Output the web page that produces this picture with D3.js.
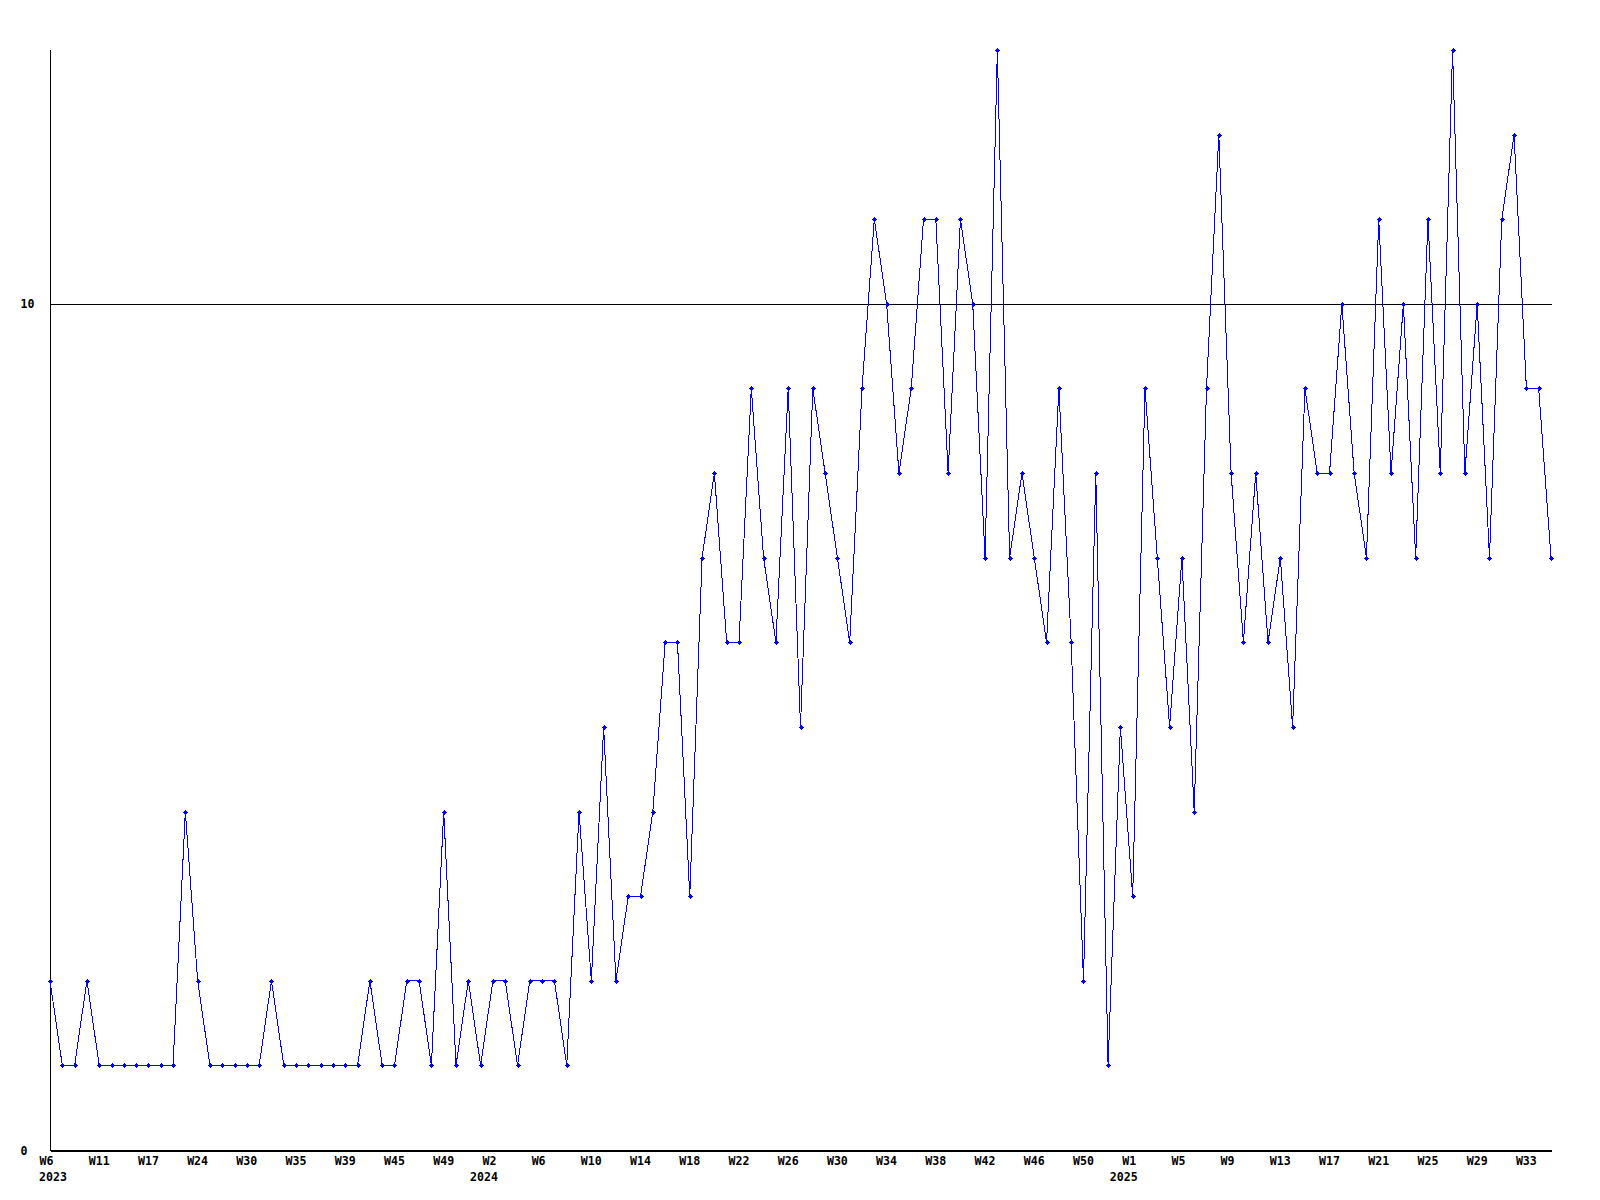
<!DOCTYPE html>
<html>
<head>
<meta charset="utf-8">
<script src="https://cdn.jsdelivr.net/npm/d3@7"></script>
<style>
  html, body { margin: 0; padding: 0; background: #ffffff; }
  svg { display: block; }
  text { font-family: "DejaVu Sans Mono", "Liberation Mono", monospace; font-weight: bold; font-size: 11.6px; fill: #000; }
</style>
</head>
<body>
<svg id="chart" width="1600" height="1200"></svg>
<script>
// ---- data ----
const weeks2023 = ["W6","W7","W8","W10","W11","W12","W14","W16","W17","W19","W21","W22",
  "W24","W25","W27","W28","W30","W31","W33","W34","W35","W36","W37","W38",
  "W39","W40","W42","W44","W45","W46","W47","W48","W49","W50","W51","W52"];
const weeks2024 = ["W2","W3","W4","W5","W6","W7","W8","W9","W10","W11","W12","W13","W14",
  "W15","W16","W17","W18","W19","W20","W21","W22","W23","W24","W25","W26","W27","W28",
  "W29","W30","W31","W32","W33","W34","W35","W36","W37","W38","W39","W40","W41","W42",
  "W43","W44","W45","W46","W47","W48","W49","W50","W51","W52","W53"];
const weeks2025 = ["W1","W2","W3","W4","W5","W6","W7","W8","W9","W10","W11","W12","W13",
  "W14","W15","W16","W17","W18","W19","W20","W21","W22","W23","W24","W25","W26","W27",
  "W28","W29","W30","W31","W32","W33","W34","W35"];
const years = ["2023", "2024", "2025"];

const values = [
  2,1,1,2,1,1,1,1,1,1,
  1,4,2,1,1,1,1,1,2,1,
  1,1,1,1,1,1,2,1,1,2,
  2,1,4,1,2,1,2,2,1,2,
  2,2,1,4,2,5,2,3,3,4,
  6,6,3,7,8,6,6,9,7,6,
  9,5,9,8,7,6,9,11,10,8,
  9,11,11,8,11,10,7,13,7,8,
  7,6,9,6,2,8,1,5,3,9,
  7,5,7,4,9,12,8,6,8,6,
  7,5,9,8,8,10,8,7,11,8,
  10,7,11,8,13,8,10,7,11,12,
  9,9,7
];

const yTicks = [0, 10];
const tickEvery = 4;

(function () {
// ---- build categories ----
const categories = [];
weeks2023.forEach(w => categories.push({week: w, year: years[0]}));
weeks2024.forEach(w => categories.push({week: w, year: years[1]}));
weeks2025.forEach(w => categories.push({week: w, year: years[2]}));
const data = values.map((v, i) => ({i, v, week: categories[i].week, year: categories[i].year}));

// ---- layout ----
const svg = d3.select("#chart");
const mLeft = 50, mRight = 1551, mTop = 50, mBottom = 1150;

const x = d3.scaleLinear().domain([0, values.length - 1]).range([mLeft, mRight]);
const y = d3.scaleLinear().domain([0, d3.max(values)]).range([mBottom, mTop]);

// horizontal rule line(s) + y labels
const yAxis = d3.axisLeft(y).tickValues(yTicks).tickSize(-(mRight - mLeft)).tickSizeOuter(0).tickFormat(d3.format("d"));
const gy = svg.append("g").attr("transform", `translate(${mLeft + 0.5},0)`).call(yAxis);
gy.select(".domain").remove();
gy.selectAll(".tick line").attr("stroke", "#000").attr("shape-rendering", "crispEdges");
gy.selectAll(".tick text").attr("x", 20 - mLeft).attr("text-anchor", "start")
  .attr("dy", "0.35em").attr("font-size", null).attr("font-family", null);

// left axis line
svg.append("line").attr("x1", mLeft + 0.5).attr("x2", mLeft + 0.5).attr("y1", mTop).attr("y2", mBottom + 1)
  .attr("stroke", "#000").attr("shape-rendering", "crispEdges");

// bottom axis
const tickIdx = d3.range(0, values.length, tickEvery);
const xAxis = d3.axisBottom(x).tickValues(tickIdx).tickSize(0).tickPadding(6)
  .tickFormat(i => categories[i].week);
const gx = svg.append("g").attr("transform", `translate(0,${mBottom + 0.5})`).call(xAxis);
gx.select(".domain").attr("stroke", "#000").attr("shape-rendering", "crispEdges");
gx.selectAll(".tick text").attr("font-size", null).attr("font-family", null)
  .attr("text-anchor", "start").attr("x", -11);

// year labels (first tick of each year)
const seenYears = new Set();
const yearTicks = tickIdx.filter(i => {
  const yr = categories[i].year;
  if (seenYears.has(yr)) return false;
  seenYears.add(yr);
  return true;
});
svg.append("g").selectAll("text").data(yearTicks).join("text")
  .attr("x", i => i === 0 ? x(i) - 11 : x(i) + 5)
  .attr("y", mBottom + 31)
  .attr("text-anchor", i => i === 0 ? "start" : "end")
  .text(i => categories[i].year);

// series line
const line = d3.line().x(d => x(d.i)).y(d => y(d.v));
svg.append("path").datum(data)
  .attr("d", line)
  .attr("fill", "none")
  .attr("stroke", "#0000ff")
  .attr("stroke-width", 1)
  .attr("shape-rendering", "crispEdges");

// markers
const markerPath = "M-2.5,-0.5h5v1h-5z M-0.5,-2.5h1v5h-1z M-1.5,-1.5h3v3h-3z";
svg.append("g").selectAll("path").data(data).join("path")
  .attr("transform", d => `translate(${Math.round(x(d.i)) + 0.5},${Math.round(y(d.v)) + 0.5})`)
  .attr("d", markerPath)
  .attr("fill", "#0000ff")
  .attr("shape-rendering", "crispEdges");
})();
</script>
</body>
</html>
